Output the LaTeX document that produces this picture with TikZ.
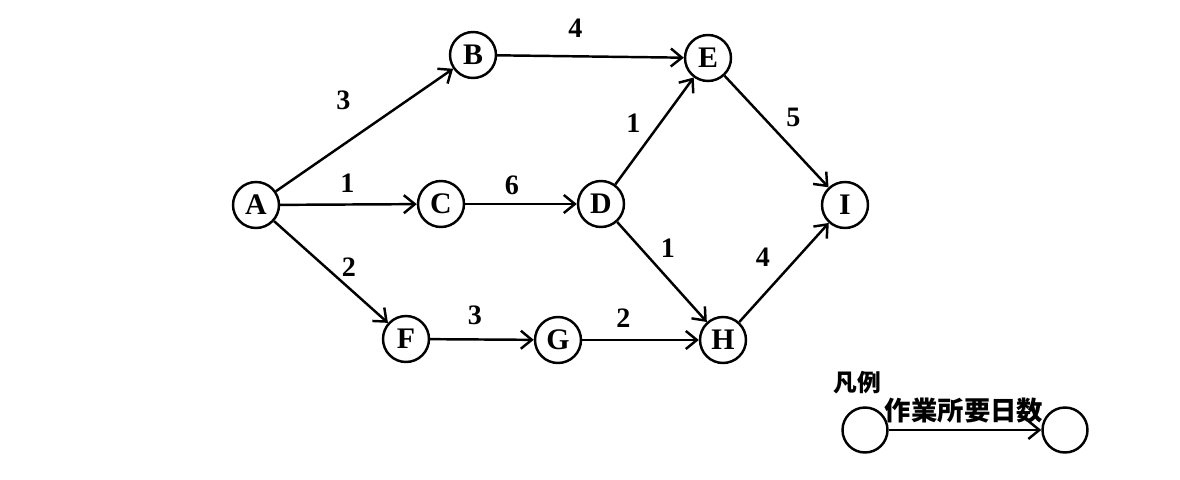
\documentclass[tikz,border=0pt]{standalone}
\usepackage{fontspec}
\setmainfont{Liberation Serif}
\newfontfamily\jpfont{Noto Sans CJK JP}
\usetikzlibrary{arrows.meta}

\begin{document}
\begin{tikzpicture}[x=0.02cm,y=-0.02cm,>={Straight Barb[length=2.2mm,width=3.6mm]},line width=1.4pt,
  ev/.style={draw,circle,minimum size=9.2mm,inner sep=0pt,font=\bfseries\fontsize{17}{20}\selectfont},
  dur/.style={midway,inner sep=0pt,font=\bfseries\fontsize{16}{18}\selectfont},
  jp/.style={inner sep=0pt,font=\jpfont\bfseries\fontsize{15}{18}\selectfont}]
  \useasboundingbox (0,0) rectangle (1180,480);
  % events
  \node[ev] (A) at (256,205) {A};
  \node[ev] (B) at (473,55) {B};
  \node[ev] (C) at (441,204) {C};
  \node[ev] (D) at (601,204) {D};
  \node[ev] (E) at (708,58) {E};
  \node[ev] (F) at (406,339) {F};
  \node[ev] (G) at (558,340) {G};
  \node[ev] (H) at (723,340) {H};
  \node[ev] (I) at (845,205) {I};
  % activities
  \draw[->] (A)--node[dur,shift={(-21,-30)}]{3}(B);
  \draw[->] (A)--node[dur,shift={(-1,-21)}]{1}(C);
  \draw[->] (A)--node[dur,shift={(18,-5)}]{2}(F);
  \draw[->] (B)--node[dur,shift={(-15,-28)}]{4}(E);
  \draw[->] (C)--node[dur,shift={(-9,-19)}]{6}(D);
  \draw[->] (D)--node[dur,shift={(-21,-8)}]{1}(E);
  \draw[->] (D)--node[dur,shift={(6,-24)}]{1}(H);
  \draw[->] (E)--node[dur,shift={(17,-14)}]{5}(I);
  \draw[->] (H)--node[dur,shift={(-21,-15)}]{4}(I);
  \draw[->] (F)--node[dur,shift={(-7,-24)}]{3}(G);
  \draw[->] (G)--node[dur,shift={(-17,-22)}]{2}(H);
  % legend
  \node[jp,font=\jpfont\bfseries\fontsize{13.5}{16}\selectfont] (lg) at (857,383) {凡例};
  \node[ev,minimum size=9mm] (p) at (865,430) {};
  \node[ev,minimum size=9mm] (q) at (1065,430) {};
  \draw[->] (p)--node[jp,midway,shift={(-1,-19)}]{作業所要日数}(q);
\end{tikzpicture}
\end{document}
